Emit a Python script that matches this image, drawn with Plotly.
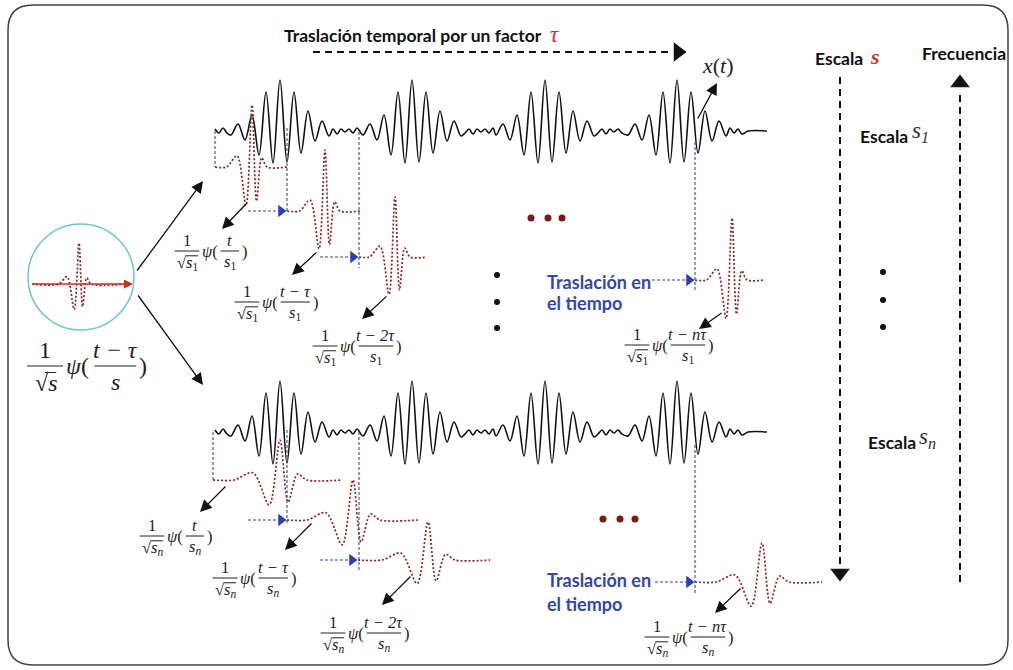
import plotly.graph_objects as go

# ---------------- data ----------------
# one burst of the analysed signal x(t): half-cycle extremes (px offsets from burst peak, amplitude px, up = +)
BURST_OFFSETS = [-49, -42, -35, -28, -21, -14, -7, 0, 7, 14, 21, 28, 35, 42, 49]
BURST_AMPS = [-4, 7, -9, 16, -24, 39, -32, 51, -31, 39, -22, 20, -10, 10, -5]
BURST_CENTERS = [280, 412, 545, 677]
WIGGLE_AMPS = [2, -2, 3, -2, 2, -3, 2, -1]
SIGNAL_BASELINES = [131, 432]

# wavelet psi shape: extremes (normalised offsets / amplitudes)
WAVELET_U = [-1.0, -0.4, 0.0, 0.3, 0.65]
WAVELET_V = [0.18, -0.62, 1.0, -0.55, 0.15]

# wavelet copies: start, end, baseline, peak x, half width, amplitude
MOTHER = (32, 125, 284, 79, 12, 41)
WAVELETS_S1 = [(215, 287, 167, 252, 15, 62), (287, 360, 211, 325, 15, 61),
               (359, 427, 257, 395, 15, 60), (695, 763, 280, 732, 15, 62)]
WAVELETS_SN = [(213, 342, 480, 280, 27, 40), (287, 418, 520, 353, 27, 40),
               (358, 490, 560, 428, 27, 38), (695, 822, 582, 762, 27, 39)]

# formula labels: (center of "1", fraction-bar y, numerator, subscript, size)
FORMULAS = [(45, 366, "t − τ", "", 24),
            (187, 251, "t", "1", 16.5), (247, 302, "t − τ", "1", 16.5),
            (325, 346, "t − 2τ", "1", 16.5), (637, 345, "t − nτ", "1", 16.5),
            (152, 536, "t", "n", 16.5), (225, 578, "t − τ", "n", 16.5),
            (333, 633, "t − 2τ", "n", 16.5), (657, 637, "t − nτ", "n", 16.5)]

BLUE_VLINES = [(215, 131, 167), (287, 128, 211), (359, 132, 268), (695, 142, 292),
               (213, 432, 480), (287, 430, 525), (359, 432, 570), (695, 445, 593)]
BLUE_HARROWS = [(248, 287, 211), (320, 359, 257), (652, 695, 280),
                (248, 287, 520), (320, 358, 560), (655, 695, 582)]
BLACK_ARROWS = [((136, 272), (203, 181)), ((137, 294), (203, 385)),
                ((248, 202), (222, 229)), ((318, 251), (292, 275)), ((388, 295), (362, 319)),
                ((723, 312), (699, 329)),
                ((227, 485), (200, 512)), ((313, 522), (285, 550)), ((412, 575), (382, 605)),
                ((742, 587), (715, 613)), ((697, 120), (717, 83))]
RED_DOTS_X = [531, 548, 562, 603, 620, 635]
RED_DOTS_Y = [218, 218, 218, 519, 519, 519]
BLACK_DOTS_X = [497, 497, 497, 883, 883, 883]
BLACK_DOTS_Y = [275, 302, 328, 272, 300, 327]

SERIF = "Liberation Serif"
SANS = "Lato"
BLUE = "#3347A8"
WRED = "#8B2323"
INK = "#222222"

fig = go.Figure()
shapes = []
anns = []


def signal_points(base):
    xs, ys = [], []
    cursor, k = 215, 0
    for c in BURST_CENTERS:
        start = c + BURST_OFFSETS[0]
        while cursor < start - 2:
            xs.append(cursor); ys.append(base - WIGGLE_AMPS[k % len(WIGGLE_AMPS)]); k += 1
            cursor += 4
        for o, a in zip(BURST_OFFSETS, BURST_AMPS):
            xs.append(c + o); ys.append(base - a)
        cursor = c + BURST_OFFSETS[-1] + 4
    while cursor < 744:
        xs.append(cursor); ys.append(base - WIGGLE_AMPS[k % len(WIGGLE_AMPS)]); k += 1
        cursor += 4
    xs += [748, 767]; ys += [base, base]
    return xs, ys


for b in SIGNAL_BASELINES:
    sx, sy = signal_points(b)
    fig.add_trace(go.Scatter(x=sx, y=sy, mode="lines", line=dict(color="#111", width=1.6, shape="spline", smoothing=1.0),
                             hoverinfo="skip", showlegend=False))


def wavelet(spec, color=WRED, width=1.7):
    start, end, base, px, w, a = spec
    xs = [start, px - 1.7 * w] + [px + u * w for u in WAVELET_U] + [px + 1.0 * w, end]
    ys = [base, base] + [base - v * a for v in WAVELET_V] + [base, base]
    fig.add_trace(go.Scatter(x=xs, y=ys, mode="lines",
                             line=dict(color=color, width=width, dash="2px,2px", shape="spline", smoothing=0.9),
                             hoverinfo="skip", showlegend=False))


# border
shapes.append(dict(type="path", path="M 33,5 L 983,5 Q 1008,5 1008,30 L 1008,640 Q 1008,665 983,665 L 33,665 Q 8,665 8,640 L 8,30 Q 8,5 33,5 Z",
                   line=dict(color="#444", width=1.5), layer="below"))
# circle with mother wavelet
shapes.append(dict(type="circle", x0=28, x1=134, y0=224, y1=330, line=dict(color="#6CC8CC", width=1.5)))
anns.append(dict(x=133, y=284, ax=32, ay=284, axref="x", ayref="y", xref="x", yref="y", text="", showarrow=True,
                 arrowhead=2, arrowsize=1.2, arrowwidth=1.5, arrowcolor="#D02828"))
wavelet(MOTHER)
for s in WAVELETS_S1 + WAVELETS_SN:
    wavelet(s)

# blue dashed guides
for x, y0, y1 in BLUE_VLINES:
    shapes.append(dict(type="line", x0=x, x1=x, y0=y0, y1=y1, line=dict(color=BLUE, width=1.1, dash="3px,2px")))
tri_x, tri_y = [], []
for x0, x1, y in BLUE_HARROWS:
    shapes.append(dict(type="line", x0=x0, x1=x1 - 8, y0=y, y1=y, line=dict(color=BLUE, width=1.1, dash="3px,2px")))
    tri_x.append(x1 - 6); tri_y.append(y)
fig.add_trace(go.Scatter(x=tri_x, y=tri_y, mode="markers", marker=dict(symbol="triangle-right", size=11, color="#2D3FB5"),
                         hoverinfo="skip", showlegend=False))

# black solid arrows
for (tx, ty), (hx, hy) in BLACK_ARROWS:
    anns.append(dict(x=hx, y=hy, ax=tx, ay=ty, axref="x", ayref="y", xref="x", yref="y", text="", showarrow=True,
                     arrowhead=2, arrowsize=1.8, arrowwidth=1.3, arrowcolor="#111"))

# big dashed arrows
shapes.append(dict(type="line", x0=313, x1=668, y0=52, y1=52, line=dict(color="#111", width=2, dash="7px,5px")))
shapes.append(dict(type="line", x0=840, x1=840, y0=77, y1=566, line=dict(color="#111", width=2, dash="7px,5px")))
shapes.append(dict(type="line", x0=960, x1=960, y0=582, y1=90, line=dict(color="#111", width=2, dash="7px,5px")))
fig.add_trace(go.Scatter(x=[678], y=[52], mode="markers", marker=dict(symbol="triangle-right", size=17, color="#111"),
                         hoverinfo="skip", showlegend=False))
fig.add_trace(go.Scatter(x=[840], y=[573], mode="markers", marker=dict(symbol="triangle-down", size=17, color="#111"),
                         hoverinfo="skip", showlegend=False))
fig.add_trace(go.Scatter(x=[960], y=[83], mode="markers", marker=dict(symbol="triangle-up", size=17, color="#111"),
                         hoverinfo="skip", showlegend=False))

# dots
fig.add_trace(go.Scatter(x=RED_DOTS_X, y=RED_DOTS_Y, mode="markers", marker=dict(size=7, color="#7A1A1A"),
                         hoverinfo="skip", showlegend=False))
fig.add_trace(go.Scatter(x=BLACK_DOTS_X, y=BLACK_DOTS_Y, mode="markers", marker=dict(size=6, color="#111"),
                         hoverinfo="skip", showlegend=False))


def text(x, y, t, size, family=SANS, color=INK, xanchor="center"):
    anns.append(dict(x=x, y=y, xref="x", yref="y", text=t, showarrow=False, xanchor=xanchor, yanchor="middle",
                     font=dict(family=family, size=size, color=color)))


def formula(x0, yc, num, sub, size):
    d = 0.66 * size
    w1 = 1.5 * size
    subt = f"<sub><i>{sub}</i></sub>" if sub == "n" else (f"<sub>{sub}</sub>" if sub else "")
    text(x0, yc - d, "1", size, SERIF)
    dc = x0 + 0.05 * size
    dy = yc + d + 1
    text(dc, dy, "√<i>s</i>" + subt, size, SERIF)
    # vinculum of the square root
    vr = dc + (0.62 if sub else 0.42) * size
    shapes.append(dict(type="line", x0=dc - (0.12 if sub else 0.05) * size, x1=vr,
                       y0=dy - 0.43 * size, y1=dy - 0.43 * size, line=dict(color=INK, width=1)))
    shapes.append(dict(type="line", x0=x0 - w1 / 2, x1=x0 + w1 / 2, y0=yc, y1=yc, line=dict(color=INK, width=1)))
    psi_left = x0 + w1 / 2 + 0.05 * size
    text(psi_left, yc, "<i>ψ</i>(", size, SERIF, xanchor="left")
    wn = max(0.33 * size * len(num), 1.0 * size)
    ic = psi_left + 1.3 * size + wn / 2
    text(ic, yc - d, f"<i>{num}</i>", size, SERIF)
    shapes.append(dict(type="line", x0=ic - wn / 2 - 1, x1=ic + wn / 2 + 1, y0=yc, y1=yc, line=dict(color=INK, width=1)))
    text(ic, yc + d, "<i>s</i>" + subt, size, SERIF)
    text(ic + wn / 2 + 0.1 * size, yc, ")", size, SERIF, xanchor="left")


for f in FORMULAS:
    formula(*f)

# labels
text(282, 35, "<b>Traslación temporal por un factor</b>", 17.5, xanchor="left", color="#111")
text(548, 34, "<i>τ</i>", 23, SERIF, color="#D03030", xanchor="left")
text(718, 65, "<i>x</i>(<i>t</i>)", 22, SERIF)
text(813, 58, "<b>Escala</b>", 17.5, xanchor="left", color="#111")
text(868, 56, "<b><i>s</i></b>", 22, SERIF, color="#D03030", xanchor="left")
text(920, 53, "<b>Frecuencia</b>", 17.5, xanchor="left", color="#111")
text(858, 136, "<b>Escala</b>", 17.5, xanchor="left", color="#111")
text(910, 132, "<i>s</i><sub><i>1</i></sub>", 23, SERIF, color="#333", xanchor="left")
text(866, 442, "<b>Escala</b>", 17.5, xanchor="left", color="#111")
text(917, 438, "<i>s</i><sub><i>n</i></sub>", 23, SERIF, color="#333", xanchor="left")
for y1, y2 in [(282, 303), (580, 604)]:
    text(545, y1, "<b>Traslación en</b>", 18, color=BLUE, xanchor="left")
    text(545, y2, "<b>el tiempo</b>", 18, color=BLUE, xanchor="left")

fig.update_layout(
    width=1013, height=670, margin=dict(l=0, r=0, t=0, b=0),
    paper_bgcolor="white", plot_bgcolor="white",
    xaxis=dict(range=[0, 1013], visible=False, fixedrange=True),
    yaxis=dict(range=[670, 0], visible=False, fixedrange=True),
    shapes=shapes, annotations=anns, showlegend=False,
)
fig.write_html("out.html")
